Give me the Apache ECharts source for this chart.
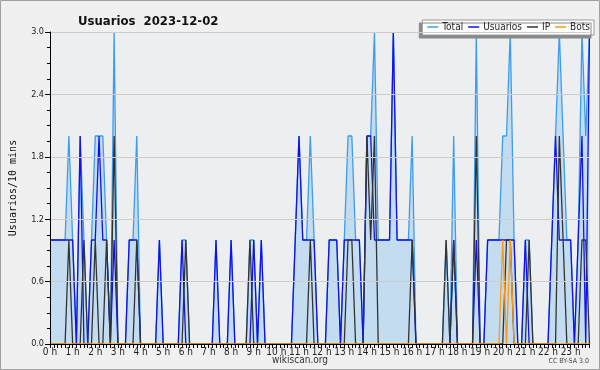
<!DOCTYPE html>
<html>
<head>
<meta charset="utf-8">
<script src="https://cdn.jsdelivr.net/npm/echarts@6/dist/echarts.min.js"></script>
<style>
html,body{margin:0;padding:0;background:#f0f0f0;}
#chart{width:600px;height:370px;}
</style>
</head>
<body>
<div id="chart"></div>
<script>
// 10-minute slots for 2023-12-02, value = editors in that slot
const hourLabels = ['0 h','1 h','2 h','3 h','4 h','5 h','6 h','7 h','8 h','9 h','10 h','11 h',
    '12 h','13 h','14 h','15 h','16 h','17 h','18 h','19 h','20 h','21 h','22 h','23 h'];
const yTicks = [0, 0.6, 1.2, 1.8, 2.4, 3.0];

const total = [
    1,1,1,1,1,2,1,0,2,1,0,1,  2,2,2,1,0,3,0,0,0,1,1,2,
    0,0,0,0,0,1,0,0,0,0,0,1,  1,0,0,0,0,0,0,0,1,0,0,0,
    1,0,0,0,0,1,1,0,1,0,0,0,  0,0,0,0,0,1,2,1,1,2,1,0,
    0,0,1,1,1,0,1,2,2,1,1,0,  2,2,3,1,1,1,1,3,1,1,1,1,
    2,0,0,0,0,0,0,0,0,1,0,2,  0,0,0,0,0,3,0,0,1,1,1,1,
    2,2,3,1,0,0,1,1,0,0,0,0,  0,1,2,3,2,1,1,0,1,3,2,3
];
const usuarios = [
    1,1,1,1,1,1,1,0,2,0,0,1,  1,2,1,1,0,1,0,0,0,1,1,1,
    0,0,0,0,0,1,0,0,0,0,0,1,  0,0,0,0,0,0,0,0,1,0,0,0,
    1,0,0,0,0,0,1,0,1,0,0,0,  0,0,0,0,0,1,2,1,1,1,1,0,
    0,0,1,1,1,0,1,1,1,1,1,0,  2,2,1,1,1,1,1,3,1,1,1,1,
    1,0,0,0,0,0,0,0,0,0,0,1,  0,0,0,0,0,1,0,0,1,1,1,1,
    1,1,1,1,0,0,1,0,0,0,0,0,  0,1,2,1,1,1,1,0,1,2,0,3
];
const ip = [
    0,0,0,0,0,1,0,0,0,1,0,0,  1,0,0,1,0,2,0,0,0,0,0,1,
    0,0,0,0,0,0,0,0,0,0,0,0,  1,0,0,0,0,0,0,0,0,0,0,0,
    0,0,0,0,0,1,0,0,0,0,0,0,  0,0,0,0,0,0,0,0,0,1,0,0,
    0,0,0,0,0,0,0,1,1,0,0,0,  2,1,2,0,0,0,0,0,0,0,0,0,
    1,0,0,0,0,0,0,0,0,1,0,1,  0,0,0,0,0,2,0,0,0,0,0,0,
    0,1,1,0,0,0,0,1,0,0,0,0,  0,0,0,2,1,0,0,0,0,1,1,0
];
const bots = [
    0,0,0,0,0,0,0,0,0,0,0,0,  0,0,0,0,0,0,0,0,0,0,0,0,
    0,0,0,0,0,0,0,0,0,0,0,0,  0,0,0,0,0,0,0,0,0,0,0,0,
    0,0,0,0,0,0,0,0,0,0,0,0,  0,0,0,0,0,0,0,0,0,0,0,0,
    0,0,0,0,0,0,0,0,0,0,0,0,  0,0,0,0,0,0,0,0,0,0,0,0,
    0,0,0,0,0,0,0,0,0,0,0,0,  0,0,0,0,0,0,0,0,0,0,0,0,
    1,0,1,0,0,0,0,0,0,0,0,0,  0,0,0,0,0,0,0,0,0,0,0,0
];

const slots = [];
for (let h = 0; h < 24; h++) {
    for (let m = 0; m < 60; m += 10) {
        slots.push(h + ':' + (m < 10 ? '0' : '') + m);
    }
}

const font = "'DejaVu Sans Condensed', 'DejaVu Sans', sans-serif";

const lineSeries = (name, data, color, z, extra)=>{
    return Object.assign({
        name: name,
        type: 'line',
        data: data,
        symbol: 'none',
        z: z,
        lineStyle: {color: color, width: 1.3},
        itemStyle: {color: color},
        emphasis: {disabled: true}
    }, extra || {});
}

let chart = echarts.init(document.getElementById('chart'));
chart.setOption({
    backgroundColor: '#f0f0f0',
    animation: false,
    title: {
        text: 'Usuarios  2023-12-02',
        left: 73,
        top: 10,
        textStyle: {fontFamily: font, fontSize: 13, fontWeight: 'bold', color: '#111'}
    },
    legend: {
        right: 6,
        top: 20,
        padding: [2, 4, 3, 5],
        itemGap: 5,
        itemWidth: 11,
        itemHeight: 1.5,
        icon: 'rect',
        backgroundColor: '#fff',
        borderColor: '#999',
        borderWidth: 1,
        shadowColor: '#888',
        shadowBlur: 0,
        shadowOffsetX: -3,
        shadowOffsetY: 3,
        textStyle: {fontFamily: font, fontSize: 10, color: '#222', padding: [0, 0, 0, -1]},
        data: ['Total', 'Usuarios', 'IP', 'Bots']
    },
    grid: {
        left: 46.5,
        right: 10.5,
        top: 32,
        bottom: 26,
        show: true,
        backgroundColor: '#eceef0',
        borderWidth: 0
    },
    xAxis: {
        type: 'category',
        data: slots,
        boundaryGap: false,
        z: 10,
        axisLine: {lineStyle: {color: '#000', width: 1}},
        axisTick: {interval: 0, length: 4, lineStyle: {color: '#000'}},
        axisLabel: {
            interval: (index)=>index % 6 === 0,
            formatter: (value, index)=>hourLabels[index / 6],
            margin: 3,
            fontFamily: font,
            fontSize: 10,
            color: '#222'
        },
        splitLine: {show: false}
    },
    yAxis: {
        type: 'value',
        min: 0,
        max: 3,
        interval: 0.6,
        z: 10,
        name: 'Usuarios/10 mins',
        nameLocation: 'middle',
        nameRotate: 90,
        nameGap: 32,
        nameTextStyle: {fontFamily: "'DejaVu Sans Mono', monospace", fontSize: 10, color: '#111'},
        axisLine: {show: true, lineStyle: {color: '#000', width: 1}},
        axisTick: {show: true, length: 5, lineStyle: {color: '#000'}},
        minorTick: {show: true, splitNumber: 4, length: 3, lineStyle: {color: '#000'}},
        axisLabel: {
            formatter: (v)=>yTicks.indexOf(v) >= 0 ? v.toFixed(1) : '',
            margin: 6,
            fontFamily: font,
            fontSize: 9,
            color: '#222'
        },
        splitLine: {lineStyle: {color: '#cdcdcd', width: 1}}
    },
    series: [
        lineSeries('Total', total, '#3c9cf0', 2, {areaStyle: {color: '#c4dcf0', opacity: 1}}),
        lineSeries('Usuarios', usuarios, '#1010f0', 3),
        lineSeries('IP', ip, '#333333', 4),
        lineSeries('Bots', bots, '#ff9a10', 5)
    ],
    graphic: [
        {
            type: 'rect',
            shape: {x: 0.5, y: 0.5, width: 599, height: 369},
            style: {fill: 'none', stroke: '#a0a0a0', lineWidth: 1},
            silent: true
        },
        {
            type: 'text',
            left: 'center',
            top: 355,
            style: {text: 'wikiscan.org', font: "10px 'DejaVu Sans Condensed', 'DejaVu Sans', sans-serif", fill: '#333'}
        },
        {
            type: 'text',
            right: 11,
            top: 358,
            style: {text: 'CC BY-SA 3.0', font: "7px 'DejaVu Sans Condensed', 'DejaVu Sans', sans-serif", fill: '#444'}
        }
    ]
});
</script>
</body>
</html>
